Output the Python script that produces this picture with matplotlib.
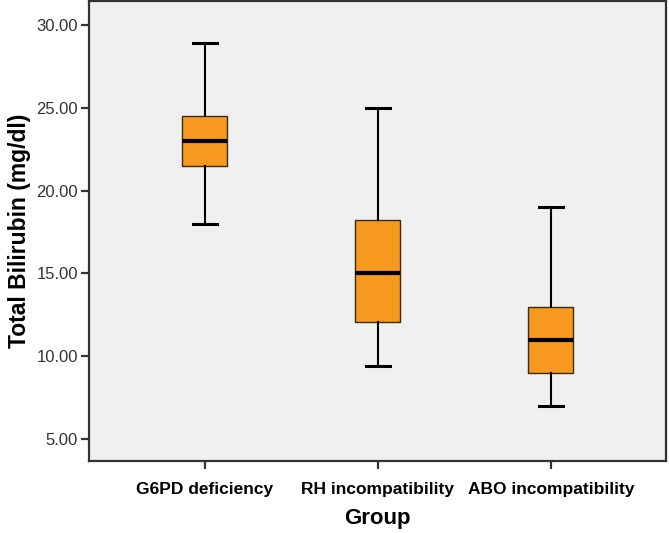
import matplotlib.pyplot as plt

# Box plot summary values
groups = ['G6PD deficiency', 'RH incompatibility', 'ABO incompatibility']
whisker_low = [18.0, 9.4, 7.0]
q1 = [21.5, 12.05, 9.0]
median = [23.0, 15.0, 11.0]
q3 = [24.5, 18.2, 13.0]
whisker_high = [28.9, 25.0, 19.0]
yticks = [5, 10, 15, 20, 25, 30]

stats = []
for i, g in enumerate(groups):
    stats.append({'label': g, 'whislo': whisker_low[i], 'q1': q1[i], 'med': median[i],
                  'q3': q3[i], 'whishi': whisker_high[i], 'fliers': []})

fig = plt.figure(figsize=(6.69, 5.33), dpi=100)
ax = fig.add_axes([0.133, 0.135, 0.8625, 0.863])
ax.set_facecolor('#f0f0f0')

pos = [1, 2, 3]
ax.bxp(stats, positions=pos, widths=0.26, patch_artist=True, showfliers=False,
       boxprops=dict(facecolor='#f7981f', edgecolor='#3a2a10', linewidth=1.0),
       medianprops=dict(color='black', linewidth=3),
       whiskerprops=dict(color='black', linewidth=1.5),
       capprops=dict(color='black', linewidth=2.2),
       capwidths=0.135)

ax.set_xlim(0.33, 3.665)
ax.set_ylim(3.67, 31.45)
ax.set_yticks(yticks)
ax.set_yticklabels(['%.2f' % v for v in yticks], fontsize=12, fontfamily='Liberation Sans', color='#333333')
ax.set_xticks(pos)
ax.set_xticklabels(groups, fontsize=12.5, fontweight='bold', fontfamily='Liberation Sans')
ax.tick_params(axis='both', direction='out', length=6, width=1.6, color='#333333')
ax.tick_params(axis='x', pad=9)
ax.tick_params(axis='y', pad=2)

for s in ax.spines.values():
    s.set_linewidth(1.6)
    s.set_color('#333333')

ax.set_ylabel('Total Bilirubin (mg/dl)', fontsize=16.5, fontweight='bold', fontfamily='Liberation Sans', labelpad=4)
ax.set_xlabel('Group', fontsize=16, fontweight='bold', fontfamily='Liberation Sans', labelpad=8)

fig.savefig('out.png', dpi=100)
